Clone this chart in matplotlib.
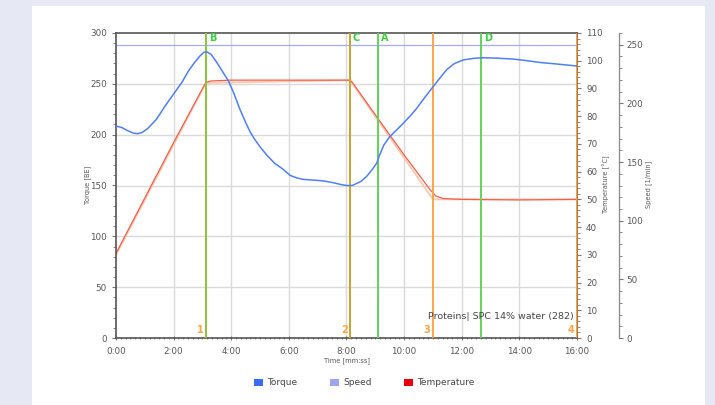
import matplotlib
matplotlib.use("Agg")
import matplotlib.pyplot as plt
import numpy as np
from matplotlib.ticker import MultipleLocator, FuncFormatter
from matplotlib.patches import Rectangle
import matplotlib.transforms as mtransforms

# ---------------- data ----------------
torque_t_min = [0.0, 0.2, 0.4, 0.6, 0.75, 0.9, 1.1, 1.4, 1.7, 2.0, 2.3, 2.5, 2.7, 2.9, 3.05, 3.15,
                3.3, 3.5, 3.7, 3.9, 4.1, 4.3, 4.5, 4.65, 4.8, 5.0, 5.23, 5.5, 5.8, 6.04, 6.27, 6.5,
                7.0, 7.2, 7.5, 7.8, 8.0, 8.2, 8.5, 8.7, 8.9, 9.05, 9.15, 9.3, 9.5, 9.86, 10.2,
                10.44, 10.7, 11.0, 11.25, 11.48, 11.75, 12.05, 12.4, 12.7, 13.2, 13.78, 14.2,
                14.72, 15.3, 16.0]
torque_val = [208.5, 207, 204, 201.5, 201, 202, 206, 215, 228, 240, 252, 262, 270, 277, 281, 281.5,
              279, 271, 262, 253, 240, 225, 212, 203, 196, 188, 180, 172, 166, 160, 157.5, 156,
              155, 154.5, 153, 151, 150, 150, 154, 159, 166, 172, 180, 190, 198, 208, 218,
              226, 236, 247, 256, 264, 270, 273.5, 275, 275.7, 275.3, 274.4, 273,
              271, 269.5, 267.5]

temp_t_min = [0.0, 0.5, 1.0, 2.0, 3.12, 3.3, 4.0, 6.0, 8.1, 8.2, 9.0, 10.0, 10.9, 11.1, 11.35, 12.0, 14.0, 16.0]
temp_val = [30.5, 40.5, 50.5, 70.5, 92.2, 92.7, 93.0, 93.0, 93.0, 92.2, 80.5, 66.0, 53.5, 51.2, 50.3, 50.0, 49.8, 50.0]

setp_t_min = [0.0, 3.12, 8.125, 11.0, 16.0]
setp_val = [30.0, 92.0, 93.0, 50.0, 50.0]

speed_t_min = [0.0, 16.0]
speed_val = [250, 250]

event_letters = ["B", "C", "A", "D"]
event_letter_t_min = [3.125, 8.125, 9.1, 12.67]
event_numbers = ["1", "2", "3", "4"]
event_number_t_min = [3.125, 8.125, 11.0, 16.0]

sample_label = "Proteins| SPC 14% water (282)"

# ---------------- styling ----------------
W, H = 715, 405
DPI = 100
fig = plt.figure(figsize=(W / DPI, H / DPI), dpi=DPI)
fig.patch.set_facecolor("#e6e9f4")
fig.add_artist(Rectangle((32 / W, 0), (705 - 32) / W, 1 - 6 / H, transform=fig.transFigure,
                         facecolor="white", edgecolor="none", zorder=-10))

L, R, B_, T = 116, 577, 338, 33
ax = fig.add_axes([L / W, 1 - B_ / H, (R - L) / W, (B_ - T) / H])
ax2 = ax.twinx()
ax3 = ax.twinx()
ax3.spines["right"].set_position(("outward", 42 * 72 / DPI))
ax3.set_zorder(1)
ax2.set_zorder(2)
ax.set_zorder(3)
for a in (ax, ax2, ax3):
    a.patch.set_visible(False)

blue = "#4f7ef5"
red = "#f0604c"
speedc = "#a4aaf6"
green = "#62d256"
orange = "#ffa347"
tickc = "#555555"

sec = lambda arr: np.asarray(arr) * 60.0

ax.set_xlim(0, 960)
ax.set_ylim(0, 300)
ax2.set_ylim(0, 110)
ax3.set_ylim(0, 260)

# grid (drawn on lowest axes so all curves sit above it)
ax.xaxis.set_major_locator(MultipleLocator(120))
ax.xaxis.set_minor_locator(MultipleLocator(10))
ax.yaxis.set_major_locator(MultipleLocator(50))
ax.yaxis.set_minor_locator(MultipleLocator(10))
for yv in np.arange(50, 300, 50):
    ax3.axhline(yv * 260 / 300, color="#dadada", linewidth=1.0, zorder=0)
for xv in np.arange(120, 960, 120):
    ax3.axvline(xv, color="#dadada", linewidth=1.0, zorder=0)
ax.xaxis.set_major_formatter(FuncFormatter(lambda v, p: f"{int(v // 60)}:{int(v % 60):02d}"))

ax2.yaxis.set_major_locator(MultipleLocator(10))
ax2.yaxis.set_minor_locator(MultipleLocator(2))
ax3.yaxis.set_major_locator(MultipleLocator(50))
ax3.yaxis.set_minor_locator(MultipleLocator(10))

for a in (ax, ax2, ax3):
    a.tick_params(which="major", labelsize=6.3, colors="#777777", labelcolor=tickc, length=3, width=0.8)
    a.tick_params(which="minor", colors="#777777", length=2, width=0.6)
ax.tick_params(axis="x", which="both", direction="inout")
ax.tick_params(axis="x", pad=5)
ax3.tick_params(axis="y", pad=2)

for s in ("left", "top", "bottom"):
    ax.spines[s].set_color("#555555")
    ax.spines[s].set_linewidth(1.2)
ax.spines["right"].set_visible(False)
ax2.spines["right"].set_color("#a87440")
ax2.spines["right"].set_linewidth(1.4)
for s in ("left", "top", "bottom"):
    ax2.spines[s].set_visible(False)
    ax3.spines[s].set_visible(False)
ax3.spines["right"].set_color("#888888")
ax3.spines["right"].set_linewidth(0.9)

# speed line
ax3.plot(sec(speed_t_min), speed_val, color=speedc, linewidth=0.9, zorder=2)

# event lines
for lab, t in zip(event_numbers, event_number_t_min):
    ax.axvline(t * 60, color=orange, linewidth=1.4, zorder=3)
letter_colors = {"B": "#8cc63e", "C": "#c9a42e", "A": green, "D": green}
for lab, t in zip(event_letters, event_letter_t_min):
    ax.axvline(t * 60, color=letter_colors[lab], linewidth=1.4, zorder=3)

trans = mtransforms.blended_transform_factory(ax.transData, ax.transAxes)
for lab, t in zip(event_letters, event_letter_t_min):
    ax.text(t * 60 + 6, 0.985, lab, transform=trans, color="#3ccc3c", fontsize=7,
            fontweight="bold", ha="left", va="center", zorder=6)
for lab, t in zip(event_numbers, event_number_t_min):
    ax.text(t * 60 - 5, 0.025, lab, transform=trans, color=orange, fontsize=7,
            fontweight="bold", ha="right", va="center", zorder=6)

# curves
ax2.plot(sec(setp_t_min), setp_val, color="#f9c9b2", linewidth=1.4, zorder=3)
ax2.plot(sec(temp_t_min), temp_val, color=red, linewidth=0.9, zorder=4)
ax.plot(sec(torque_t_min), torque_val, color=blue, linewidth=1.1, zorder=5)

ax.text(0.992, 0.069, sample_label, transform=ax.transAxes, ha="right", va="center",
        fontsize=6.8, color="#444444", zorder=7)

# axis labels
fig.text(88 / W, 1 - 185 / H, "Torque [BE]", rotation=90, ha="center", va="center", fontsize=4.8, color=tickc)
fig.text(606 / W, 1 - 184 / H, "Temperature [°C]", rotation=90, ha="center", va="center", fontsize=4.8, color=tickc)
fig.text(649 / W, 1 - 184 / H, "Speed [1/min]", rotation=90, ha="center", va="center", fontsize=4.8, color=tickc)
fig.text(347 / W, 1 - 361 / H, "Time [mm:ss]", ha="center", va="center", fontsize=4.8, color=tickc)

# legend
legend_items = [("Torque", "#3b6cf6", 254), ("Speed", "#a0a4ee", 330), ("Temperature", "#e8000a", 404)]
for name, col, x0 in legend_items:
    fig.add_artist(Rectangle((x0 / W, 1 - 386 / H), 9 / W, 7 / H, transform=fig.transFigure,
                             facecolor=col, edgecolor="none"))
    fig.text((x0 + 13) / W, 1 - 382.5 / H, name, ha="left", va="center", fontsize=6.5, color="#444444")

fig.savefig("out.png", dpi=DPI, facecolor=fig.get_facecolor())
